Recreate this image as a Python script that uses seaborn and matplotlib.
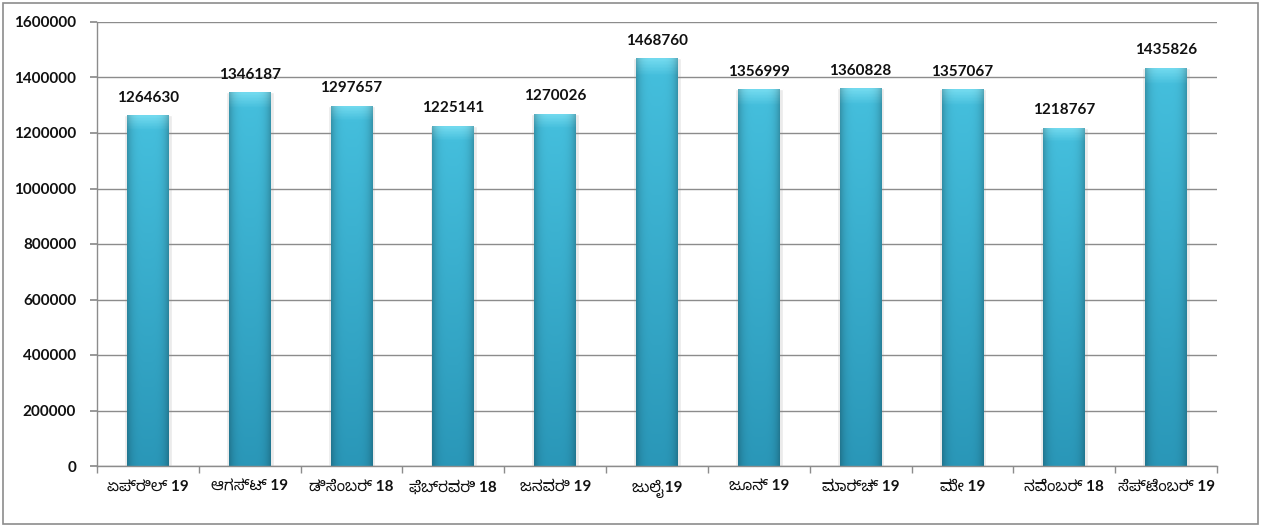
import numpy as np
import pandas as pd
import matplotlib
matplotlib.use("Agg")
import matplotlib.pyplot as plt
import seaborn as sns
from matplotlib import font_manager

months = ["ಏಪ್ರಿಲ್ 19", "ಆಗಸ್ಟ್ 19", "ಡಿಸೆಂಬರ್ 18", "ಫೆಬ್ರವರಿ 18", "ಜನವರಿ 19", "ಜುಲೈ 19",
          "ಜೂನ್ 19", "ಮಾರ್ಚ್ 19", "ಮೇ 19", "ನವೆಂಬರ್ 18", "ಸೆಪ್ಟೆಂಬರ್ 19"]
values = [1264630, 1346187, 1297657, 1225141, 1270026, 1468760,
          1356999, 1360828, 1357067, 1218767, 1435826]
yticks = [0, 200000, 400000, 600000, 800000, 1000000, 1200000, 1400000, 1600000]

sns.set_theme(style="white")
avail = {f.name for f in font_manager.fontManager.ttflist}
kn_fams = [f for f in ["Lato", "Noto Sans Kannada", "Lohit Kannada", "Tunga", "DejaVu Sans"] if f in avail]
num_fams = [f for f in ["Lato", "Liberation Sans", "DejaVu Sans"] if f in avail]
plt.rcParams['font.family'] = num_fams

df = pd.DataFrame({"month": months, "value": values})

fig = plt.figure(figsize=(12.65, 5.29), dpi=100)
ax = fig.add_axes([97/1265, 1 - 466/529, (1217-97)/1265, (466-22)/529])
sns.barplot(data=df, x="month", y="value", color="#40B8D6", width=0.41, ax=ax,
            saturation=1, edgecolor="none")

# gradient overlay per bar, clipped to each bar patch
h, w = 128, 48
top = np.array([0x72, 0xDA, 0xEF]) / 255
mid = np.array([0x44, 0xBE, 0xDC]) / 255
bot = np.array([0x2A, 0x97, 0xB8]) / 255
img = np.zeros((h, w, 3))
ts = np.linspace(0, 1, h)
for i, t in enumerate(ts):
    if t < 0.04:
        c = top + (mid - top) * (t / 0.04)
    else:
        c = mid + (bot - mid) * ((t - 0.04) / 0.96)
    img[i, :, :] = c
xx = np.linspace(0, 1, w)
edge = np.clip(np.abs(xx - 0.5) * 2, 0, 1) ** 4
img = img * (1 - 0.22 * edge[None, :, None])
for p in list(ax.patches):
    x0, y0 = p.get_x(), p.get_y()
    bw, bh = p.get_width(), p.get_height()
    im = ax.imshow(img, extent=[x0, x0 + bw, y0, y0 + bh], aspect="auto",
                   origin="upper", zorder=p.get_zorder() + 0.1)
    im.set_clip_path(p)
    ax.bar(x0 + bw / 2, bh, width=bw * 1.14, color="#EBEBEB", zorder=p.get_zorder() - 0.5)

ax.set_xlim(-0.5, len(months) - 0.5)
ax.set_ylim(0, 1600000)
ax.set_yticks(yticks)
ax.set_yticklabels([str(v) for v in yticks], fontsize=11, fontweight="bold", color="#111111")
ax.yaxis.grid(True, color="#8C8C8C", linewidth=1)
ax.set_axisbelow(True)
ax.set_xlabel("")
ax.set_ylabel("")

ax.set_xticks(np.arange(len(months)))
ax.set_xticklabels(months, fontsize=11, fontweight="bold", family=kn_fams, color="#111111")
ax.tick_params(axis="x", length=0, pad=10)
ax.set_xticks(np.arange(len(months) + 1) - 0.5, minor=True)
ax.tick_params(axis="x", which="minor", length=5, color="#8C8C8C", direction="out", bottom=True)
ax.tick_params(axis="y", length=5, color="#8C8C8C", direction="out", left=True, pad=10)

for s in ["top", "right"]:
    ax.spines[s].set_visible(False)
for s in ["left", "bottom"]:
    ax.spines[s].set_color("#8C8C8C")
    ax.spines[s].set_linewidth(1)

for i, v in enumerate(values):
    ax.text(i, v + 38000, str(v), ha="center", va="bottom", fontsize=11, fontweight="bold", color="#111111")

fig.patches.append(plt.Rectangle((3/1265, 5/529), 1 - 10/1265, 1 - 8/529, transform=fig.transFigure,
                                 fill=False, edgecolor="#8C8C8C", linewidth=1.2))

fig.savefig("out.png", dpi=100)
